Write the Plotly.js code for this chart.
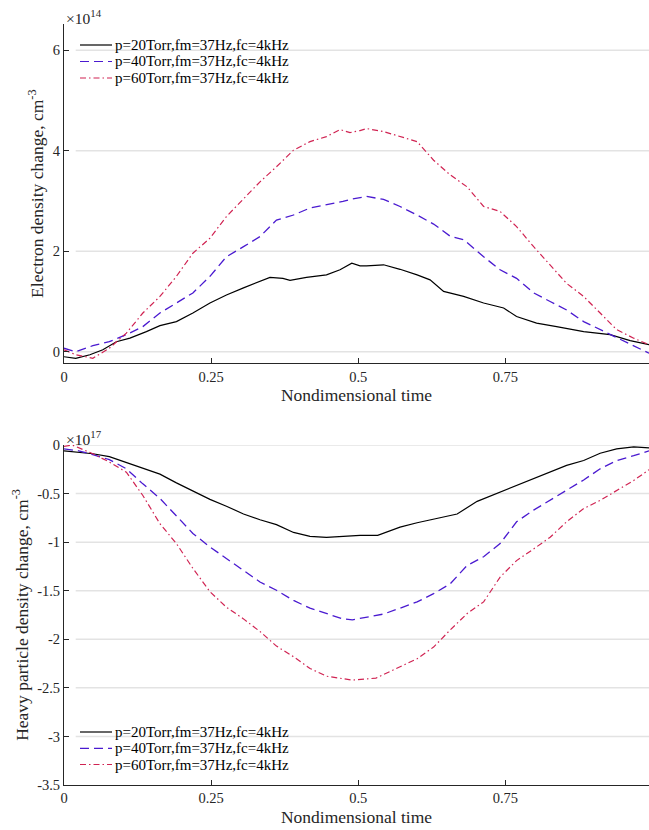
<!DOCTYPE html>
<html>
<head>
<meta charset="utf-8">
<script src="https://cdn.plot.ly/plotly-3.0.1.min.js"></script>
<style>
  html, body { margin: 0; padding: 0; background: #ffffff; }
  #chart { width: 649px; height: 830px; }
</style>
</head>
<body>
<div id="chart"></div>
<script>
// Series labels (shared by both panels)
const seriesNames = [
  'p=20Torr,fm=37Hz,fc=4kHz',
  'p=40Torr,fm=37Hz,fc=4kHz',
  'p=60Torr,fm=37Hz,fc=4kHz'
];

// ---- Upper panel: electron density change (x 1e14 cm^-3) ----
const tE20 = [0, 0.02, 0.044, 0.066, 0.089, 0.112, 0.14, 0.163, 0.191, 0.219, 0.248, 0.276, 0.305, 0.333, 0.35, 0.372, 0.384, 0.412, 0.446, 0.469, 0.489, 0.503, 0.514, 0.543, 0.571, 0.6, 0.622, 0.645, 0.679, 0.713, 0.747, 0.769, 0.803, 0.837, 0.883, 0.928, 0.962, 0.994];
const ne20 = [-0.1, -0.13, -0.06, 0.04, 0.2, 0.27, 0.4, 0.52, 0.6, 0.77, 0.97, 1.13, 1.27, 1.4, 1.48, 1.46, 1.42, 1.48, 1.53, 1.63, 1.76, 1.71, 1.71, 1.73, 1.64, 1.53, 1.43, 1.2, 1.1, 0.97, 0.87, 0.7, 0.57, 0.5, 0.4, 0.34, 0.22, 0.14];

const tE40 = [0, 0.02, 0.049, 0.077, 0.106, 0.134, 0.163, 0.191, 0.219, 0.248, 0.276, 0.305, 0.333, 0.361, 0.39, 0.418, 0.446, 0.474, 0.49, 0.514, 0.543, 0.571, 0.6, 0.628, 0.656, 0.679, 0.713, 0.741, 0.769, 0.798, 0.826, 0.854, 0.883, 0.911, 0.939, 0.968, 0.994];
const ne40 = [0.07, 0.0, 0.12, 0.2, 0.34, 0.5, 0.77, 0.97, 1.17, 1.5, 1.89, 2.09, 2.29, 2.62, 2.72, 2.86, 2.92, 2.99, 3.04, 3.09, 3.03, 2.89, 2.72, 2.54, 2.3, 2.23, 1.89, 1.63, 1.46, 1.17, 1.0, 0.83, 0.6, 0.44, 0.27, 0.11, -0.03];

const tE60 = [0, 0.02, 0.049, 0.077, 0.106, 0.134, 0.163, 0.191, 0.219, 0.248, 0.276, 0.305, 0.333, 0.361, 0.39, 0.418, 0.446, 0.469, 0.486, 0.503, 0.514, 0.543, 0.571, 0.6, 0.628, 0.656, 0.685, 0.713, 0.741, 0.769, 0.798, 0.826, 0.854, 0.883, 0.911, 0.939, 0.968, 0.994];
const ne60 = [0.04, -0.06, -0.13, 0.07, 0.37, 0.77, 1.1, 1.5, 1.96, 2.26, 2.69, 3.05, 3.38, 3.68, 4.01, 4.18, 4.28, 4.42, 4.36, 4.4, 4.44, 4.38, 4.28, 4.18, 3.81, 3.52, 3.28, 2.89, 2.79, 2.49, 2.09, 1.73, 1.36, 1.1, 0.77, 0.44, 0.27, 0.14];

// ---- Lower panel: heavy particle density change (x 1e17 cm^-3) ----
const tH20 = [0, 0.049, 0.077, 0.106, 0.134, 0.163, 0.191, 0.219, 0.248, 0.276, 0.305, 0.333, 0.361, 0.39, 0.418, 0.446, 0.474, 0.503, 0.533, 0.571, 0.6, 0.628, 0.668, 0.702, 0.741, 0.769, 0.798, 0.826, 0.854, 0.883, 0.911, 0.939, 0.968, 0.994];
const nh20 = [-0.06, -0.09, -0.12, -0.18, -0.245, -0.3, -0.39, -0.47, -0.56, -0.63, -0.71, -0.77, -0.82, -0.9, -0.94, -0.95, -0.94, -0.93, -0.93, -0.845, -0.8, -0.76, -0.71, -0.58, -0.485, -0.42, -0.35, -0.28, -0.21, -0.16, -0.085, -0.04, -0.02, -0.03];

const tH40 = [0, 0.025, 0.049, 0.077, 0.106, 0.134, 0.163, 0.191, 0.219, 0.248, 0.276, 0.305, 0.333, 0.361, 0.39, 0.418, 0.446, 0.474, 0.49, 0.514, 0.543, 0.571, 0.6, 0.628, 0.656, 0.685, 0.713, 0.741, 0.769, 0.798, 0.826, 0.854, 0.883, 0.911, 0.939, 0.968, 0.994];
const nh40 = [-0.04, -0.06, -0.1, -0.15, -0.245, -0.4, -0.55, -0.725, -0.91, -1.05, -1.17, -1.29, -1.41, -1.495, -1.6, -1.68, -1.735, -1.79, -1.8, -1.77, -1.74, -1.68, -1.615, -1.53, -1.43, -1.24, -1.15, -1.015, -0.79, -0.67, -0.57, -0.47, -0.36, -0.245, -0.16, -0.11, -0.06];

const tH60 = [0, 0.014, 0.049, 0.077, 0.106, 0.134, 0.163, 0.191, 0.219, 0.248, 0.276, 0.305, 0.333, 0.361, 0.39, 0.418, 0.446, 0.474, 0.49, 0.53, 0.571, 0.6, 0.628, 0.656, 0.685, 0.713, 0.741, 0.769, 0.798, 0.826, 0.854, 0.883, 0.911, 0.939, 0.968, 0.994];
const nh60 = [-0.015, 0.0, -0.09, -0.175, -0.28, -0.52, -0.81, -1.015, -1.27, -1.51, -1.67, -1.79, -1.92, -2.07, -2.18, -2.3, -2.38, -2.41, -2.42, -2.4, -2.28, -2.2, -2.08, -1.905, -1.735, -1.615, -1.36, -1.19, -1.07, -0.95, -0.79, -0.655, -0.57, -0.47, -0.365, -0.255];

// Axis ticks
const timeTicks = [0, 0.25, 0.5, 0.75];
const timeTickText = ['0', '0.25', '0.5', '0.75'];
const neTicks = [0, 2, 4, 6];
const neTickText = ['0', '2', '4', '6'];
const nhTicks = [0, -0.5, -1, -1.5, -2, -2.5, -3, -3.5];
const nhTickText = ['0', '-0.5', '-1', '-1.5', '-2', '-2.5', '-3', '-3.5'];

// Line styles per pressure
const styles = [
  { color: '#000000', width: 1.2, dash: 'solid' },
  { color: '#4a1ad0', width: 1.3, dash: '9px,5px' },
  { color: '#d02352', width: 1.2, dash: '6px,3px,1.5px,3px' }
];

const FONT = 'Liberation Serif, Times New Roman, serif';
const INK = '#262626';

const upper = [[tE20, ne20], [tE40, ne40], [tE60, ne60]];
const lower = [[tH20, nh20], [tH40, nh40], [tH60, nh60]];

const traces = [];
upper.forEach((s, i) => traces.push({
  x: s[0], y: s[1], type: 'scatter', mode: 'lines', name: seriesNames[i],
  xaxis: 'x', yaxis: 'y', showlegend: false, line: styles[i]
}));
lower.forEach((s, i) => traces.push({
  x: s[0], y: s[1], type: 'scatter', mode: 'lines', name: seriesNames[i],
  xaxis: 'x2', yaxis: 'y2', showlegend: false, line: styles[i]
}));

// Plot geometry (pixels) used for legend placement
const W = 649, H = 830, ML = 64, MR = 0, MT = 24, MB = 45;
const PW = W - ML - MR, PH = H - MT - MB;
const px2x = p => (p - ML) / PW;
const py2y = p => (H - MB - p) / PH;

const shapes = [];
// horizontal grid lines, starting a little right of the y axis
neTicks.forEach(v => shapes.push({
  type: 'line', xref: 'x domain', yref: 'y', x0: 0.02, x1: 1, y0: v, y1: v,
  line: { color: '#e3e3e3', width: 1.5 }, layer: 'below'
}));
nhTicks.slice(0, -1).forEach(v => shapes.push({
  type: 'line', xref: 'x2 domain', yref: 'y2', x0: 0.02, x1: 1, y0: v, y1: v,
  line: { color: '#e3e3e3', width: 1.5 }, layer: 'below'
}));

const annotations = [];
// legend rows (line sample + label) for both panels
const legendRows = [[45, 61.5, 78], [732, 748.3, 764.5]];
legendRows.forEach(rows => rows.forEach((py, i) => {
  shapes.push({
    type: 'line', xref: 'paper', yref: 'paper',
    x0: px2x(80), x1: px2x(112), y0: py2y(py), y1: py2y(py),
    line: { color: styles[i].color, width: 1.2, dash: styles[i].dash }
  });
  annotations.push({
    xref: 'paper', yref: 'paper', x: px2x(113), y: py2y(py),
    xanchor: 'left', yanchor: 'middle', showarrow: false,
    text: seriesNames[i], font: { family: FONT, size: 15, color: '#000000' }
  });
}));

// axis multipliers
annotations.push({
  xref: 'paper', yref: 'paper', x: 0, y: 1, xanchor: 'left', yanchor: 'bottom',
  yshift: -5, showarrow: false, text: '×10<sup>14</sup>',
  font: { family: FONT, size: 15.5, color: INK }
});
annotations.push({
  xref: 'paper', yref: 'paper', x: 0, y: py2y(445), xanchor: 'left', yanchor: 'bottom',
  yshift: -5, showarrow: false, text: '×10<sup>17</sup>',
  font: { family: FONT, size: 15.5, color: INK }
});

function xAxis(anchor) {
  return {
    anchor: anchor, domain: [0, 1], range: [0, 0.994],
    tickmode: 'array', tickvals: timeTicks, ticktext: timeTickText,
    ticks: 'inside', ticklen: 5, tickwidth: 1, tickcolor: INK,
    showline: true, linecolor: INK, linewidth: 1,
    showgrid: false, zeroline: false,
    tickfont: { family: FONT, size: 14.5, color: INK },
    title: { text: 'Nondimensional time', font: { family: FONT, size: 17.5, color: INK }, standoff: 5 }
  };
}

function yAxis(anchor, domain, range, vals, text, title) {
  return {
    anchor: anchor, domain: domain, range: range,
    tickmode: 'array', tickvals: vals, ticktext: text,
    ticks: 'inside', ticklen: 5, tickwidth: 1, tickcolor: INK,
    showline: true, linecolor: INK, linewidth: 1,
    showgrid: false, zeroline: false,
    tickfont: { family: FONT, size: 14.5, color: INK },
    title: { text: title, font: { family: FONT, size: 17.5, color: INK }, standoff: 4 }
  };
}

const layout = {
  width: W, height: H,
  margin: { l: ML, r: MR, t: MT, b: MB, pad: 0 },
  paper_bgcolor: '#ffffff', plot_bgcolor: '#ffffff',
  font: { family: FONT, color: INK },
  showlegend: false,
  xaxis: xAxis('y'),
  yaxis: yAxis('x', [py2y(363.3), 1], [-0.23, 6.52], neTicks, neTickText,
    'Electron density change, cm<sup>-3</sup>'),
  xaxis2: xAxis('y2'),
  yaxis2: yAxis('x2', [0, py2y(445)], [-3.5, 0], nhTicks, nhTickText,
    'Heavy particle density change, cm<sup>-3</sup>'),
  shapes: shapes,
  annotations: annotations
};

Plotly.newPlot('chart', traces, layout, { displayModeBar: false, staticPlot: true });
</script>
</body>
</html>
